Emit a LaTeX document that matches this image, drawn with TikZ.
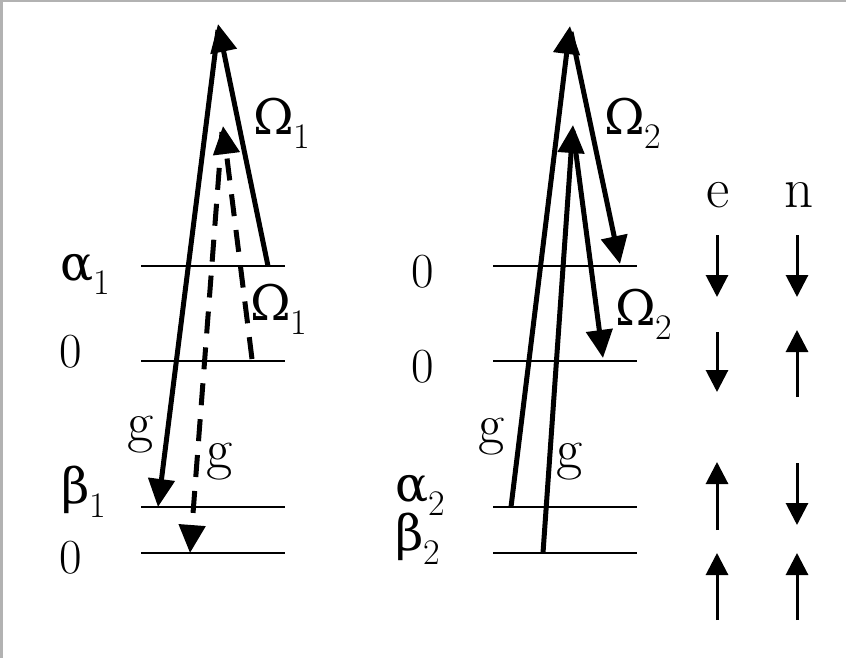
\documentclass[tikz,border=0pt]{standalone}
\usepackage{fontspec}
\newfontfamily\grkfont{DejaVu Serif}
\usetikzlibrary{arrows.meta}
\newcommand{\lsub}[2]{{\grkfont #1}\raisebox{-14pt}{\fontsize{36}{36}\selectfont #2}}

\begin{document}
\begin{tikzpicture}[x=1pt,y=-1pt,
  lvl/.style={line width=2pt},
  trans/.style={line width=5pt,-{Triangle[length=28pt,width=26pt]}},
  spin/.style={line width=3pt,-{Triangle[length=22pt,width=22pt]}},
  lbl/.style={inner sep=0pt,anchor=base west,font=\fontsize{49}{49}\selectfont},
  big/.style={lbl,font=\fontsize{57}{57}\selectfont}]
\useasboundingbox (0,0) rectangle (846,658);
\fill[black!30] (0,0) rectangle (3,658);
\fill[black!30] (0,0) rectangle (846,2);

% levels, left
\draw[lvl] (141,266) -- (285,266);
\draw[lvl] (141,361) -- (285,361);
\draw[lvl] (141,507) -- (285,507);
\draw[lvl] (141,553) -- (285,553);
\node[lbl] (alpha1) at (60,280) {\lsub{α}{1}};
\node[lbl] (zeroa) at (59,367) {0};
\node[lbl] (beta1) at (61,503) {\lsub{β}{1}};
\node[lbl] (zerob) at (59,573) {0};

% levels, right
\draw[lvl] (493,266) -- (637,266);
\draw[lvl] (493,361) -- (637,361);
\draw[lvl] (493,507) -- (637,507);
\draw[lvl] (493,553) -- (637,553);
\node[lbl] (zeroc) at (411,287) {0};
\node[lbl] (zerod) at (411,382) {0};
\node[lbl] (alpha2) at (395,501) {\lsub{α}{2}};
\node[lbl] (beta2) at (395,550) {\lsub{β}{2}};

% left transitions
\coordinate (l1) at (268,266);
\coordinate (t1) at (218,24);
\coordinate (t1b) at (218,30);
\coordinate (l2) at (158,507);
\coordinate (l3) at (252,359);
\coordinate (t2) at (223,126);
\coordinate (t2b) at (222,132);
\coordinate (l4) at (190,553);
\draw[trans] (l1) -- (t1);
\draw[trans] (t1b) -- (l2);
\draw[trans,dash pattern=on 22pt off 14pt] (l3) -- (t2);
\draw[trans,dash pattern=on 22pt off 14pt] (t2b) -- (l4);
\node[lbl] (om1a) at (253,135) {\lsub{Ω}{1}};
\node[lbl] (om1b) at (250,320) {\lsub{Ω}{1}};
\node[big] (g1) at (127,441) {g};
\node[big] (g2) at (206,468) {g};

% right transitions
\coordinate (r1) at (511,507);
\coordinate (t3) at (570,26);
\coordinate (t3b) at (571,32);
\coordinate (r2) at (620,264);
\coordinate (r3) at (543,553);
\coordinate (t4) at (573,125);
\coordinate (t4b) at (573,131);
\coordinate (r4) at (603,358);
\draw[trans] (r1) -- (t3);
\draw[trans] (t3b) -- (r2);
\draw[trans] (r3) -- (t4);
\draw[trans] (t4b) -- (r4);
\node[lbl] (om2a) at (604,135) {\lsub{Ω}{2}};
\node[lbl] (om2b) at (615,325) {\lsub{Ω}{2}};
\node[big] (g3) at (478,443) {g};
\node[big] (g4) at (556,468) {g};

% spins
\node[big,anchor=base] (e) at (718,207) {e};
\node[big,anchor=base] (n) at (799,207) {n};
\draw[spin] (717,235) -- (717,297);
\draw[spin] (797,235) -- (797,297);
\draw[spin] (717,332) -- (717,392);
\draw[spin] (797,397) -- (797,330);
\draw[spin] (717,530) -- (717,462);
\draw[spin] (797,463) -- (797,525);
\draw[spin] (717,620) -- (717,553);
\draw[spin] (797,620) -- (797,553);
\end{tikzpicture}
\end{document}
